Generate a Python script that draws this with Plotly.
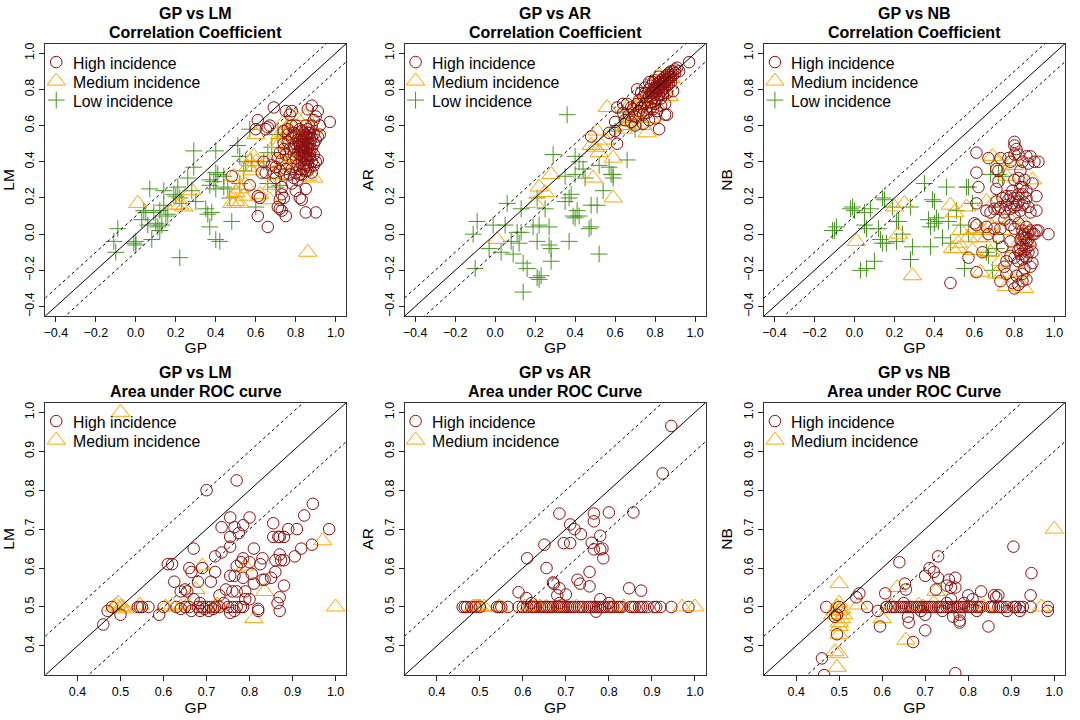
"""
GP vs LM / AR / NB: correlation coefficient and area under ROC curve.
Values are read off the reference picture.
"""
import plotly.graph_objects as go

# Correlation coefficient panels: (GP, other method) pairs
lm_high = [(0.69,0.70),(0.61,0.63),(0.66,0.59),(0.67,0.60),(0.65,0.58),(0.60,0.58),(0.75,0.68),(0.78,0.68),(0.77,0.66),
    (0.86,0.69),(0.88,0.71),(0.91,0.68),(0.90,0.65),(0.97,0.62),(0.92,0.60),(0.92,0.55),(0.89,0.55),(0.91,0.54),
    (0.48,0.32),(0.57,0.27),(0.61,0.21),(0.62,0.20),(0.61,0.10),(0.66,0.04),(0.72,0.14),(0.71,0.15),(0.73,0.13),
    (0.75,0.10),(0.85,0.12),(0.90,0.12),(0.83,0.19),(0.82,0.20),(0.85,0.25),(0.80,0.24),(0.78,0.28),(0.73,0.22),
    (0.73,0.26),(0.72,0.19),(0.74,0.20),(0.64,0.40),(0.63,0.34),(0.65,0.34),(0.69,0.34),(0.70,0.31),(0.72,0.45),
    (0.71,0.42),(0.74,0.47),(0.74,0.57),(0.76,0.55),(0.78,0.60),(0.80,0.60),(0.82,0.58),(0.84,0.50),(0.70,0.37),
    (0.68,0.38),(0.75,0.36),(0.77,0.33),(0.79,0.31),(0.81,0.30),(0.83,0.33),(0.85,0.35),(0.87,0.37),(0.89,0.38),
    (0.91,0.41),(0.90,0.40),(0.88,0.34),(0.85,0.41),(0.81,0.38),(0.79,0.44),(0.77,0.47),(0.76,0.51),(0.78,0.53),
    (0.80,0.55),(0.81,0.52),(0.82,0.49),(0.83,0.46),(0.84,0.43),(0.85,0.45),(0.86,0.47),(0.87,0.50),(0.88,0.53),
    (0.89,0.50),(0.87,0.56),(0.86,0.58),(0.85,0.60),(0.84,0.56),(0.83,0.54),(0.82,0.52),(0.83,0.51),(0.84,0.53),
    (0.85,0.52),(0.86,0.53),(0.85,0.49),(0.84,0.48),(0.83,0.49),(0.82,0.46),(0.84,0.46),(0.86,0.44),(0.85,0.55),
    (0.83,0.57),(0.87,0.53),(0.86,0.50),(0.88,0.47),(0.84,0.39),(0.82,0.36),(0.80,0.42),(0.86,0.41),(0.87,0.44),
    (0.81,0.45),(0.80,0.50),(0.79,0.48),(0.83,0.43),(0.85,0.38),(0.75,0.44),(0.73,0.41),(0.72,0.35),(0.74,0.33),
    (0.79,0.56),(0.76,0.58),(0.74,0.50),(0.89,0.44),(0.90,0.52),(0.88,0.60),(0.89,0.63),(0.85,0.54),(0.86,0.56),
    (0.84,0.51),(0.83,0.48),(0.85,0.47),(0.86,0.48),(0.87,0.47),(0.84,0.45),(0.85,0.43),(0.83,0.41),(0.82,0.44),
    (0.87,0.42),(0.88,0.40),(0.86,0.38),(0.84,0.36),(0.82,0.33),(0.80,0.34),(0.78,0.36),(0.86,0.35)]
lm_med = [(0.01,0.17),(0.86,-0.10),(0.28,0.24),(0.24,0.15),(0.20,0.16),(0.22,0.16),(0.48,0.17),(0.50,0.18),(0.52,0.17),
    (0.50,0.23),(0.52,0.25),(0.49,0.32),(0.56,0.37),(0.57,0.40),(0.59,0.43),(0.58,0.35),(0.62,0.22),(0.67,0.19),
    (0.68,0.27),(0.60,0.55),(0.60,0.40),(0.74,0.62),(0.77,0.61),(0.72,0.55),(0.75,0.55),(0.75,0.58),(0.72,0.50),
    (0.74,0.45),(0.76,0.42),(0.78,0.37),(0.75,0.38),(0.80,0.42),(0.83,0.55),(0.85,0.65),(0.87,0.60),(0.88,0.58),
    (0.84,0.45),(0.89,0.31),(0.86,0.32),(0.70,0.33),(0.66,0.40),(0.85,0.50),(0.55,0.27),(0.54,0.21),(0.78,0.56),
    (0.80,0.65),(0.70,0.50),(0.73,0.38),(0.77,0.48),(0.82,0.40)]
lm_low = [(-0.11,-0.04),(-0.10,-0.10),(-0.09,0.03),(-0.01,-0.05),(0.0,-0.06),(0.0,-0.04),(0.07,0.25),(0.04,0.13),
    (0.05,0.12),(0.03,0.08),(0.06,0.05),(0.08,-0.03),(0.09,0.12),(0.10,0.06),(0.11,0.04),(0.12,0.02),(0.13,0.05),
    (0.12,0.13),(0.14,0.16),(0.14,0.24),(0.15,0.10),(0.16,0.11),(0.19,0.22),(0.20,0.21),(0.22,-0.13),(0.21,0.26),
    (0.22,0.20),(0.23,0.17),(0.26,0.31),(0.29,0.46),(0.29,0.37),(0.28,0.24),(0.30,0.18),(0.35,0.14),(0.36,0.11),
    (0.37,0.30),(0.37,0.27),(0.38,0.12),(0.37,0.04),(0.40,0.46),(0.39,0.29),(0.40,0.25),(0.40,0.34),(0.41,0.33),
    (0.40,-0.03),(0.42,-0.04),(0.44,0.26),(0.46,0.25),(0.48,0.07),(0.51,0.49),(0.52,0.43),(0.54,0.35),(0.55,0.40),
    (0.57,0.58),(0.58,0.40),(0.60,0.15),(0.64,0.40),(0.66,0.45),(0.68,0.48),(0.66,0.28),(0.70,0.26),(0.71,0.55),
    (0.74,0.53),(0.72,0.27),(0.47,0.20),(0.44,0.32),(0.52,0.28)]

ar_high = [(0.97,0.95),(0.91,0.92),(0.92,0.90),(0.89,0.90),(0.48,0.54),(0.61,0.50),(0.60,0.62),(0.61,0.70),(0.64,0.72),
    (0.64,0.67),(0.71,0.80),(0.82,0.58),(0.85,0.66),(0.86,0.66),(0.89,0.79),(0.57,0.56),(0.60,0.57),(0.65,0.63),
    (0.67,0.66),(0.68,0.62),(0.69,0.69),(0.70,0.65),(0.71,0.72),(0.72,0.68),(0.72,0.74),(0.73,0.70),(0.74,0.66),
    (0.74,0.76),(0.75,0.72),(0.75,0.78),(0.76,0.74),(0.76,0.70),(0.77,0.80),(0.77,0.76),(0.78,0.73),(0.78,0.82),
    (0.78,0.78),(0.79,0.75),(0.79,0.80),(0.79,0.84),(0.80,0.72),(0.80,0.77),(0.80,0.81),(0.80,0.85),(0.81,0.79),
    (0.81,0.83),(0.81,0.75),(0.82,0.80),(0.82,0.84),(0.82,0.87),(0.82,0.77),(0.83,0.82),(0.83,0.79),(0.83,0.85),
    (0.83,0.75),(0.84,0.83),(0.84,0.86),(0.84,0.80),(0.84,0.77),(0.85,0.84),(0.85,0.87),(0.85,0.81),(0.85,0.72),
    (0.86,0.85),(0.86,0.88),(0.86,0.82),(0.86,0.78),(0.87,0.86),(0.87,0.89),(0.87,0.83),(0.88,0.87),(0.88,0.90),
    (0.88,0.84),(0.89,0.88),(0.90,0.89),(0.90,0.91),(0.78,0.70),(0.76,0.67),(0.79,0.69),(0.83,0.71),(0.81,0.68),
    (0.80,0.64),(0.77,0.63),(0.74,0.61),(0.70,0.60),(0.68,0.70),(0.66,0.72),(0.73,0.78),(0.75,0.81),(0.77,0.84),
    (0.82,0.82),(0.84,0.84),(0.85,0.85),(0.86,0.86),(0.83,0.83),(0.81,0.81),(0.80,0.79),(0.79,0.78),(0.87,0.87)]
ar_med = [(0.01,-0.03),(0.22,0.26),(0.25,0.23),(0.20,0.17),(0.28,0.33),(0.49,0.31),(0.59,0.20),(0.59,0.42),(0.52,0.45),
    (0.50,0.48),(0.53,0.49),(0.51,0.57),(0.56,0.70),(0.48,0.49),(0.55,0.52),(0.64,0.58),(0.76,0.56),(0.78,0.64),
    (0.85,0.87),(0.87,0.76),(0.82,0.88),(0.73,0.68),(0.69,0.62),(0.72,0.72),(0.75,0.75),(0.78,0.78),(0.80,0.72),
    (0.70,0.70),(0.68,0.66),(0.66,0.60),(0.82,0.82),(0.74,0.60),(0.88,0.86),(0.66,0.70),(0.71,0.66),(0.76,0.70),
    (0.79,0.74),(0.84,0.78),(0.74,0.72)]
ar_low = [(-0.11,0.0),(-0.10,-0.19),(-0.09,0.07),(-0.03,-0.08),(-0.01,0.05),(0.03,-0.10),(0.05,0.05),(0.06,0.17),
    (0.08,-0.04),(0.09,-0.11),(0.11,0.01),(0.12,-0.05),(0.13,0.01),(0.13,0.14),(0.14,-0.32),(0.14,-0.16),(0.16,-0.19),
    (0.19,0.04),(0.21,0.20),(0.22,0.05),(0.21,-0.04),(0.21,-0.24),(0.23,-0.23),(0.22,-0.25),(0.25,0.14),(0.27,0.04),
    (0.27,-0.06),(0.28,-0.08),(0.29,0.44),(0.28,-0.15),(0.36,0.66),(0.35,0.32),(0.35,0.18),(0.37,0.20),(0.38,0.22),
    (0.37,-0.04),(0.39,0.10),(0.40,0.09),(0.40,0.43),(0.40,0.33),(0.41,0.13),(0.42,0.10),(0.42,0.40),(0.44,0.36),
    (0.45,0.31),(0.47,0.03),(0.48,0.16),(0.48,0.04),(0.51,0.16),(0.52,-0.11),(0.52,0.38),(0.54,0.24),(0.58,0.33),
    (0.59,0.33),(0.59,0.31),(0.57,0.37),(0.66,0.41),(0.60,0.57),(0.62,0.60),(0.64,0.67),(0.67,0.62),(0.70,0.58),(0.73,0.62)]

nb_high = [(0.80,0.51),(0.80,0.49),(0.81,0.47),(0.80,0.44),(0.61,0.45),(0.67,0.42),(0.73,0.42),(0.77,0.42),(0.78,0.40),
    (0.82,0.44),(0.86,0.43),(0.88,0.43),(0.84,0.40),(0.87,0.39),(0.92,0.40),(0.90,0.40),(0.61,0.34),(0.62,0.26),
    (0.71,0.36),(0.72,0.35),(0.72,0.29),(0.71,0.25),(0.80,0.30),(0.83,0.35),(0.82,0.31),(0.83,0.26),(0.86,0.24),
    (0.84,0.22),(0.89,0.28),(0.91,0.21),(0.91,0.13),(0.86,0.20),(0.78,0.21),(0.77,0.19),(0.76,0.16),(0.72,0.14),
    (0.70,0.14),(0.66,0.13),(0.68,0.12),(0.80,0.20),(0.80,0.15),(0.85,0.17),(0.83,0.13),(0.87,0.15),(0.88,0.12),
    (0.61,0.17),(0.60,0.06),(0.61,0.05),(0.66,0.04),(0.67,0.0),(0.73,0.03),(0.72,-0.02),(0.74,-0.07),(0.57,-0.13),
    (0.64,-0.10),(0.61,-0.21),(0.48,-0.27),(0.97,0.0),(0.92,0.02),(0.90,0.0),(0.91,0.02),(0.86,0.04),(0.85,0.0),
    (0.87,-0.03),(0.84,-0.06),(0.83,-0.08),(0.85,-0.09),(0.87,-0.10),(0.86,-0.13),(0.84,-0.14),(0.88,-0.06),(0.89,0.0),
    (0.89,-0.10),(0.89,-0.16),(0.88,-0.18),(0.85,-0.19),(0.84,-0.22),(0.84,-0.26),(0.86,-0.25),(0.82,-0.28),(0.80,-0.30),
    (0.79,-0.27),(0.73,-0.26),(0.75,-0.18),(0.76,-0.15),(0.83,-0.03),(0.86,-0.05),(0.80,0.10),(0.75,0.12),(0.82,0.18),
    (0.79,0.17),(0.81,0.16),(0.84,0.16),(0.78,0.14),(0.85,-0.02),(0.84,-0.01),(0.86,-0.08),(0.83,-0.11),(0.82,-0.09),
    (0.88,0.02),(0.87,0.01),(0.85,-0.12),(0.86,-0.02),(0.84,0.02),(0.82,0.22),(0.84,0.26),(0.85,0.30),(0.73,0.15),
    (0.75,0.08),(0.78,0.05),(0.70,0.03),(0.78,-0.04),(0.80,0.03),(0.82,0.06),(0.71,0.18),(0.74,0.20),(0.76,0.21),
    (0.79,0.24),(0.76,-0.22),(0.81,-0.23),(0.78,-0.12),(0.82,-0.15),(0.80,-0.13)]
nb_med = [(0.01,-0.04),(0.20,0.15),(0.25,0.17),(0.22,0.0),(0.29,-0.23),(0.48,0.16),(0.49,-0.08),(0.50,0.12),(0.52,-0.05),
    (0.52,-0.08),(0.53,0.02),(0.56,0.15),(0.59,-0.09),(0.57,-0.02),(0.63,-0.21),(0.66,0.18),(0.68,-0.10),(0.69,0.43),
    (0.72,0.40),(0.71,-0.22),(0.74,-0.22),(0.78,0.08),(0.76,-0.29),(0.85,-0.30),(0.83,-0.21),(0.89,0.30),(0.74,0.02),
    (0.80,-0.08),(0.85,0.0),(0.86,-0.04),(0.79,0.40),(0.76,0.32),(0.85,0.05),(0.73,-0.15),(0.68,0.05),(0.60,0.03),
    (0.64,0.02),(0.72,0.09),(0.66,-0.02),(0.70,0.18),(0.80,0.38),(0.62,-0.02)]
nb_low = [(-0.11,0.02),(-0.10,0.02),(-0.09,0.04),(-0.02,0.14),(-0.01,0.15),(0.0,0.13),(0.03,-0.20),(0.05,0.12),(0.08,0.14),
    (0.05,0.05),(0.06,0.03),(0.06,-0.19),(0.10,-0.15),(0.12,0.03),(0.13,-0.03),(0.14,0.20),(0.15,0.19),(0.14,-0.05),
    (0.16,-0.05),(0.19,0.15),(0.21,0.07),(0.22,0.07),(0.24,0.0),(0.21,-0.04),(0.28,0.15),(0.28,-0.14),(0.29,-0.07),
    (0.35,0.28),(0.38,0.04),(0.38,-0.07),(0.37,0.08),(0.39,0.19),(0.40,0.18),(0.41,0.09),(0.40,0.06),(0.42,0.07),
    (0.44,-0.02),(0.46,0.26),(0.47,0.07),(0.48,-0.05),(0.51,0.13),(0.53,0.05),(0.56,0.26),(0.57,0.26),(0.55,-0.19),
    (0.59,0.17),(0.57,0.0),(0.66,-0.10),(0.69,-0.20),(0.67,-0.12),(0.71,-0.08),(0.74,0.32),(0.68,0.33),(0.72,0.33)]

# Area under ROC curve panels
auc_gp_row = [0.46,0.465,0.47,0.48,0.49,0.50,0.54,0.545,0.55,0.565,0.59,0.60,0.61,0.62,0.625,0.63,0.64,0.645,0.65,0.655,
    0.66,0.665,0.67,0.68,0.685,0.69,0.695,0.70,0.705,0.71,0.715,0.72,0.73,0.735,0.74,0.75,0.755,0.76,0.765,0.77,0.775,
    0.78,0.785,0.79,0.80,0.805,0.81,0.82,0.825,0.83,0.85,0.855,0.86,0.87,0.875,0.88,0.89,0.905,0.91,0.92,0.945,0.985]
auc_med_row = [0.485,0.49,0.49,0.495,0.50,0.50,0.51,0.545,0.605,0.62,0.63,0.64,0.655,0.685,0.69,0.725,0.81,0.835,0.97,1.0]

lm_auc_high = [(0.46,0.455),(0.47,0.49),(0.48,0.50),(0.50,0.48),(0.59,0.48),(0.61,0.61),(0.62,0.61),(0.625,0.565),(0.64,0.54),
    (0.65,0.545),(0.655,0.54),(0.66,0.60),(0.665,0.59),(0.67,0.52),(0.67,0.65),(0.68,0.565),(0.685,0.51),(0.69,0.60),
    (0.70,0.80),(0.71,0.565),(0.72,0.59),(0.72,0.63),(0.73,0.53),(0.735,0.64),(0.735,0.705),(0.745,0.545),(0.755,0.655),
    (0.755,0.68),(0.755,0.58),(0.755,0.73),(0.76,0.54),(0.765,0.58),(0.765,0.705),(0.77,0.605),(0.77,0.54),(0.77,0.825),
    (0.775,0.69),(0.78,0.615),(0.785,0.625),(0.785,0.575),(0.785,0.71),(0.79,0.54),(0.80,0.615),(0.80,0.73),(0.805,0.585),
    (0.81,0.56),(0.81,0.65),(0.825,0.61),(0.83,0.625),(0.83,0.57),(0.835,0.57),(0.85,0.575),(0.855,0.715),(0.855,0.68),
    (0.86,0.62),(0.86,0.59),(0.865,0.51),(0.867,0.68),(0.87,0.68),(0.87,0.635),(0.87,0.525),(0.873,0.62),(0.88,0.62),
    (0.88,0.555),(0.88,0.68),(0.89,0.70),(0.905,0.63),(0.91,0.70),(0.92,0.65),(0.927,0.735),(0.945,0.66),(0.947,0.765),
    (0.985,0.70),(0.87,0.49),(0.545,0.50),(0.54,0.50),(0.55,0.50),(0.565,0.50),(0.60,0.50),(0.63,0.50),(0.64,0.495),
    (0.65,0.50),(0.66,0.50),(0.665,0.49),(0.68,0.50),(0.685,0.49),(0.69,0.50),(0.695,0.495),(0.70,0.50),(0.705,0.49),
    (0.71,0.50),(0.715,0.495),(0.72,0.50),(0.73,0.50),(0.74,0.51),(0.75,0.50),(0.755,0.485),(0.76,0.50),(0.765,0.49),
    (0.77,0.50),(0.78,0.50),(0.785,0.50),(0.79,0.52),(0.80,0.52),(0.82,0.495),(0.82,0.49)]
lm_auc_med = [(0.50,1.0),(0.97,0.67),(1.0,0.50),(0.835,0.54),(0.81,0.47),(0.79,0.605),(0.69,0.605),(0.675,0.545),(0.485,0.50),
    (0.49,0.505),(0.495,0.51),(0.50,0.50),(0.505,0.50),(0.51,0.495),(0.545,0.505),(0.605,0.50),(0.62,0.505),(0.64,0.50),
    (0.655,0.505),(0.72,0.50),(0.725,0.505)]

ar_auc_high = [(0.945,0.965),(0.925,0.843),(0.685,0.74),(0.765,0.74),(0.80,0.743),(0.857,0.743),(0.765,0.72),(0.71,0.712),
    (0.72,0.70),(0.735,0.687),(0.78,0.683),(0.65,0.66),(0.695,0.664),(0.71,0.664),(0.76,0.665),(0.765,0.648),(0.78,0.648),
    (0.785,0.65),(0.787,0.625),(0.61,0.625),(0.655,0.60),(0.755,0.59),(0.727,0.57),(0.733,0.56),(0.67,0.563),(0.672,0.56),
    (0.755,0.553),(0.685,0.548),(0.847,0.548),(0.875,0.542),(0.59,0.538),(0.70,0.532),(0.68,0.53),(0.608,0.523),(0.78,0.52),
    (0.77,0.488),(0.62,0.51),(0.80,0.51),(0.685,0.51)]

nb_auc_high = [(0.46,0.368),(0.465,0.325),(0.47,0.50),(0.49,0.475),(0.495,0.43),(0.54,0.525),(0.547,0.535),(0.565,0.50),(0.59,0.49),
    (0.595,0.45),(0.607,0.535),(0.61,0.50),(0.64,0.615),(0.653,0.56),(0.655,0.545),(0.66,0.475),(0.662,0.46),(0.672,0.41),
    (0.70,0.44),(0.70,0.58),(0.71,0.60),(0.72,0.59),(0.73,0.63),(0.73,0.575),(0.725,0.545),(0.75,0.555),(0.755,0.57),
    (0.76,0.55),(0.77,0.575),(0.77,0.55),(0.765,0.475),(0.77,0.33),(0.78,0.465),(0.78,0.46),(0.80,0.53),(0.81,0.52),
    (0.83,0.54),(0.847,0.45),(0.86,0.53),(0.865,0.525),(0.87,0.53),(0.89,0.49),(0.905,0.655),(0.91,0.50),(0.92,0.49),
    (0.927,0.50),(0.945,0.53),(0.947,0.587),(0.985,0.49),(0.50,0.50),(0.495,0.48),(0.70,0.48),(0.74,0.49),(0.76,0.52),
    (0.78,0.48),(0.79,0.51),(0.82,0.49),(0.69,0.49),(0.65,0.51),(0.75,0.51)]
nb_auc_med = [(1.0,0.70),(0.50,0.56),(0.635,0.55),(0.725,0.54),(0.655,0.415),(0.97,0.50),(0.60,0.47),(0.62,0.505),(0.545,0.505),
    (0.685,0.505),(0.695,0.50),(0.72,0.51),(0.81,0.50),(0.835,0.50),(0.495,0.345),(0.49,0.385),(0.50,0.38),(0.50,0.43),
    (0.50,0.45),(0.50,0.46),(0.505,0.47),(0.51,0.48),(0.50,0.49),(0.495,0.50),(0.50,0.51),(0.505,0.495),(0.49,0.49),(0.485,0.48)]

row_y = 0.5
lm_auc_row = [x for x in auc_gp_row if x > 0.6]
panels = [
    dict(name="LM", sub="Correlation Coefficient", high=lm_high, med=lm_med, low=lm_low),
    dict(name="AR", sub="Correlation Coefficient", high=ar_high, med=ar_med, low=ar_low),
    dict(name="NB", sub="Correlation Coefficient", high=nb_high, med=nb_med, low=nb_low),
    dict(name="LM", sub="Area under ROC curve", high=lm_auc_high, med=lm_auc_med, low=None),
    dict(name="AR", sub="Area under ROC Curve", high=ar_auc_high + [(x, row_y) for x in auc_gp_row],
         med=[(x, row_y) for x in auc_med_row], low=None),
    dict(name="NB", sub="Area under ROC Curve", high=nb_auc_high + [(x, row_y) for x in lm_auc_row], med=nb_auc_med, low=None),
]

DARKRED = "#8B0F0F"
ORANGE = "#FFA500"
GREEN = "#4A9423"
FONT = "Liberation Sans"
W, H = 1080, 720
LEFTS = [43.3, 403.3, 763.3]
TOPS = [42.7, 402.7]
PW, PH = 301.7, 273.3


def px(x):
    return x / W


def py(y):
    return 1 - y / H


fig = go.Figure()


def add_group(pts, label, symbol, size, color, i):
    # legend keys only; the labels beside them are annotations so the spacing can follow the original
    xs, ys = zip(*pts)
    fig.add_trace(go.Scatter(
        x=xs, y=ys, mode="markers", name="",
        xaxis=f"x{i + 1}", yaxis=f"y{i + 1}",
        legend="legend" if i == 0 else f"legend{i + 1}",
        legendrank={"High incidence": 1, "Medium incidence": 2, "Low incidence": 3}[label],
        showlegend=True, hovertemplate=label + "<extra></extra>",
        marker=dict(symbol=symbol, size=size, color="rgba(0,0,0,0)" if symbol == "cross-thin" else color,
                    line=dict(width=1, color=color)),
    ))


layout = dict(width=W, height=H, margin=dict(l=0, r=0, t=0, b=0), autosize=False,
              paper_bgcolor="white", plot_bgcolor="white", font=dict(family=FONT, color="black"))
annotations = []
shapes = []
for i, p in enumerate(panels):
    col, row = i % 3, i // 3
    left, top = LEFTS[col], TOPS[row]
    if row == 0:
        rng, ticks = [-0.453, 1.053], [-0.4, -0.2, 0.0, 0.2, 0.4, 0.6, 0.8, 1.0]
    else:
        rng, ticks = [0.325, 1.025], [0.4, 0.5, 0.6, 0.7, 0.8, 0.9, 1.0]

    labels = ["High incidence", "Medium incidence"]
    if p["low"]:
        add_group(p["low"], "Low incidence", "cross-thin", 12, GREEN, i)
        labels.append("Low incidence")
    add_group(p["med"], "Medium incidence", "triangle-up-open", 16, ORANGE, i)
    add_group(p["high"], "High incidence", "circle-open", 11.5, DARKRED, i)

    common = dict(range=rng, tickvals=ticks, tickformat=".1f", ticks="outside", ticklen=5, tickwidth=1,
                  tickcolor="#222222", showline=True, linecolor="#333333", linewidth=1, mirror=True,
                  showgrid=False, zeroline=False, tickfont=dict(size=12.5, family=FONT))
    layout[f"xaxis{i + 1}"] = dict(common, domain=[px(left), px(left + PW)], anchor=f"y{i + 1}",
                                   title=dict(text="GP", font=dict(size=15.5), standoff=3))
    layout[f"yaxis{i + 1}"] = dict(common, domain=[py(top + PH), py(top)], anchor=f"x{i + 1}",
                                   tickangle=-90, title=dict(text=p["name"], font=dict(size=15.5), standoff=5))
    layout["legend" if i == 0 else f"legend{i + 1}"] = dict(
        x=px(left - 9), y=py(top + 4), xanchor="left", yanchor="top",
        bgcolor="rgba(0,0,0,0)", font=dict(size=12, family=FONT), tracegroupgap=0, itemwidth=30,
    )
    for k, line in enumerate([f"GP vs {p['name']}", p["sub"]]):
        annotations.append(dict(
            text=f"<b>{line}</b>", xref="paper", yref="paper", x=px(left + PW / 2), y=py(top - 30.6 + 19 * k),
            xanchor="center", yanchor="middle", showarrow=False, font=dict(size=16, family=FONT),
        ))
    for k, label in enumerate(labels):
        annotations.append(dict(
            text=label, xref="paper", yref="paper", x=px(left + 25.4), y=py(top + 19.6 + 19 * k),
            xanchor="left", yanchor="middle", showarrow=False, font=dict(size=15.8, family=FONT),
        ))
    for off, dash in [(0, "solid"), (0.1, "3px,3px"), (-0.1, "3px,3px")]:
        shapes.append(dict(type="line", xref=f"x{i + 1}", yref=f"y{i + 1}", x0=rng[0], y0=rng[0] + off,
                           x1=rng[1], y1=rng[1] + off, line=dict(color="black", width=1, dash=dash), layer="above"))

fig.update_layout(annotations=annotations, shapes=shapes, **layout)

# the page body has a default 8px margin, which would push the figure off its 1080x720 frame
fig.write_html("out.html", config={"displayModeBar": False}, post_script="document.body.style.margin = '0';")
